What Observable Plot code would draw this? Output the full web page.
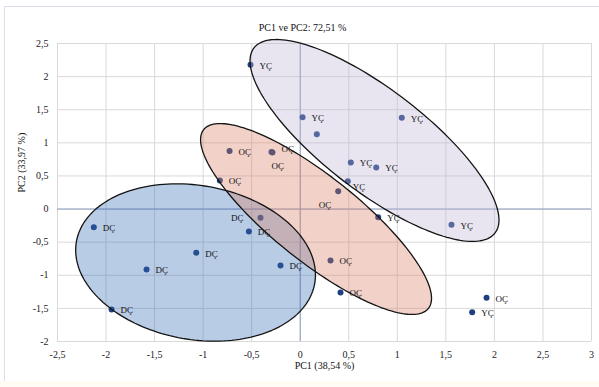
<!DOCTYPE html>
<html>
<head>
<meta charset="utf-8">
<script src="https://cdn.jsdelivr.net/npm/d3@7"></script>
<script src="https://cdn.jsdelivr.net/npm/@observablehq/plot@0.6"></script>
<style>
  html, body { margin: 0; padding: 0; background: #ffffff; }
  #wrap { position: relative; width: 599px; height: 387px; overflow: hidden; }
  #wrap svg { position: absolute; left: 0; top: 0; }
  .bt { position: absolute; left: 4px; top: 6px; width: 595px; height: 1px; background: #dcdfeb; }
  .bl { position: absolute; left: 4px; top: 6px; width: 1px; height: 375px; background: #dcdfeb; }
  .bb { position: absolute; left: 0; top: 381px; width: 599px; height: 6px; background: #fffdf3; }
</style>
</head>
<body>
<div id="wrap"><div class="bb"></div><div class="bt"></div><div class="bl"></div></div>
<script>
// ---- data ----
const titleText = "PC1 ve PC2: 72,51 %";
const xTitle = "PC1 (38,54 %)";
const yTitle = "PC2 (33,97 %)";
const xTicks = [-2.5, -2, -1.5, -1, -0.5, 0, 0.5, 1, 1.5, 2, 2.5, 3];
const yTicks = [-2, -1.5, -1, -0.5, 0, 0.5, 1, 1.5, 2, 2.5];

const pointGroup = ["DÇ","DÇ","DÇ","DÇ","DÇ","DÇ","DÇ",
                    "OÇ","OÇ","OÇ","OÇ","OÇ","OÇ","OÇ","OÇ",
                    "YÇ","YÇ","YÇ","YÇ","YÇ","YÇ","YÇ","YÇ","YÇ","YÇ"];
const pointX = [-2.126, -1.583, -1.071, -1.943, -0.529, -0.409, -0.203,
                -0.728, -0.296, -0.286, -0.828, 0.391, 0.312, 0.415, 1.919,
                -0.512, 0.024, 0.171, 1.046, 0.521, 0.783, 0.490, 0.803, 1.558, 1.771];
const pointY = [-0.273, -0.912, -0.660, -1.517, -0.338, -0.131, -0.852,
                0.875, 0.860, 0.855, 0.432, 0.270, -0.776, -1.260, -1.340,
                2.180, 1.388, 1.131, 1.379, 0.704, 0.628, 0.421, -0.122, -0.237, -1.557];
// label placement per point: r = right, ru = right-up, b = below, bl = below-left, l = left, rb = right-below, n = none
const labelPlace = ["r","r","r","r","r","l","r",
                    "r","ru","b","r","bl","r","r","r",
                    "r","r","n","r","r","r","rb","r","r","r"];

// confidence ellipses (data units; tilt in degrees, clockwise on screen)
const ellipseGroup = ["DÇ", "OÇ", "YÇ"];
const ellipseCx = [-1.078, 0.163, 0.765];
const ellipseCy = [-0.807, -0.150, 1.036];
const ellipseA = [1.246, 1.479, 1.565];
const ellipseB = [0.793, 0.440, 0.525];
const ellipseTilt = [10, 38.5, 37.5];

// ---- layout / style ----
const W = 599, H = 387, ML = 57, MR = 8, MT = 43, MB = 46;
const xDom = [-2.5, 3], yDom = [-2, 2.5];
const kx = (W - ML - MR) / (xDom[1] - xDom[0]);
const ky = (H - MT - MB) / (yDom[1] - yDom[0]);
const fillColor = {"DÇ": "#376db8", "OÇ": "#da7e62", "YÇ": "#bdb5d4"};
const place = {
  r:  {dx: 9,   dy: 1,  textAnchor: "start"},
  ru: {dx: 10,  dy: -3, textAnchor: "start"},
  b:  {dx: -1,  dy: 14, textAnchor: "start"},
  bl: {dx: -7,  dy: 14, textAnchor: "end"},
  l:  {dx: -17, dy: 0,  textAnchor: "end"},
  rb: {dx: 5,   dy: 6,  textAnchor: "start"}
};

const points = pointX.map((x, i) => ({x, y: pointY[i], g: pointGroup[i], p: labelPlace[i]}));

const ellipses = [];
ellipseGroup.forEach((g, k) => {
  const th = ellipseTilt[k] * Math.PI / 180;
  const n = 180;
  for (let i = 0; i <= n; i++) {
    const t = 2 * Math.PI * i / n;
    const dxp = ellipseA[k] * Math.cos(t) * Math.cos(th) - ellipseB[k] * Math.sin(t) * Math.sin(th);
    const dyd = ellipseA[k] * Math.cos(t) * Math.sin(th) + ellipseB[k] * Math.sin(t) * Math.cos(th);
    ellipses.push({g, x: ellipseCx[k] + dxp, y: ellipseCy[k] - dyd * kx / ky});
  }
});

const fmt = d => String(d).replace(".", ",");

const labelMarks = Object.keys(place).map(key =>
  Plot.text(points.filter(d => d.p === key), {
    x: "x", y: "y", text: "g", dx: place[key].dx, dy: place[key].dy,
    textAnchor: place[key].textAnchor, fontSize: 9, fill: "#111"
  })
);

const chart = Plot.plot({
  width: W, height: H,
  marginLeft: ML, marginRight: MR, marginTop: MT, marginBottom: MB,
  style: {fontFamily: "'Liberation Serif', 'Times New Roman', serif", fontSize: "10px", color: "#222", background: "transparent"},
  x: {domain: xDom, ticks: xTicks, tickFormat: fmt, tickSize: 0, tickPadding: 9, label: null},
  y: {domain: yDom, ticks: yTicks, tickFormat: fmt, tickSize: 0, tickPadding: 9, label: null},
  marks: [
    Plot.gridX(xTicks, {stroke: "#d9d9d9", strokeOpacity: 1}),
    Plot.gridY(yTicks, {stroke: "#d9d9d9", strokeOpacity: 1}),
    Plot.ruleX([0], {stroke: "#8c9cc0", strokeWidth: 1}),
    Plot.ruleY([0], {stroke: "#8c9cc0", strokeWidth: 1}),
    Plot.axisX(xTicks, {tickSize: 0, tickPadding: 9, tickFormat: fmt, label: null, fontSize: 10}),
    Plot.axisY(yTicks, {tickSize: 0, tickPadding: 9, tickFormat: fmt, label: null, fontSize: 10}),
    Plot.dot(points, {x: "x", y: "y", r: 3, fill: "#1f3f80", stroke: "none"}),
    ...ellipseGroup.map(g => Plot.line(ellipses.filter(d => d.g === g), {
      x: "x", y: "y", curve: "linear-closed", fill: fillColor[g], fillOpacity: 0.35, stroke: "none"
    })),
    ...ellipseGroup.map(g => Plot.line(ellipses.filter(d => d.g === g), {
      x: "x", y: "y", curve: "linear-closed", stroke: "#141414", strokeWidth: 1.3
    })),
    ...labelMarks,
    Plot.text([titleText], {frameAnchor: "top", dx: -22, dy: -20, fontSize: 10, fill: "#111"}),
    Plot.text([xTitle], {frameAnchor: "bottom", dy: 27, fontSize: 10, fill: "#111"}),
    Plot.text([yTitle], {frameAnchor: "left", dx: -36, rotate: -90, fontSize: 10, fill: "#111"})
  ]
});
document.getElementById("wrap").appendChild(chart);
</script>
</body>
</html>
